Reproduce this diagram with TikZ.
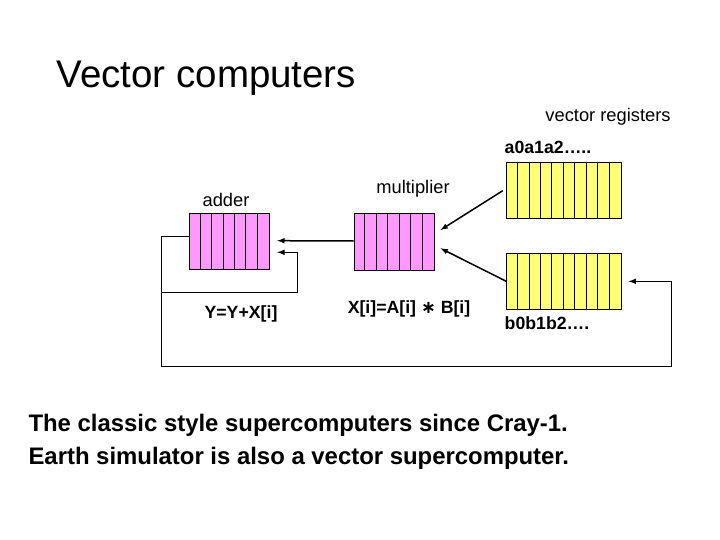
\documentclass[tikz,border=0pt]{standalone}
\usepackage{fontspec}
\setmainfont{Liberation Sans}
\newfontfamily\symfnt{DejaVu Sans}
\usetikzlibrary{arrows, positioning}
\definecolor{regpink}{RGB}{255,153,255}
\definecolor{regyellow}{RGB}{255,255,120}
\tikzstyle{pinkreg} = [rectangle, minimum width=80pt, minimum height=56.5pt, inner sep=0pt, draw=black, line width=1pt, fill=regpink]
\tikzstyle{yellowreg} = [rectangle, minimum width=114.3pt, minimum height=56.5pt, inner sep=0pt, draw=black, line width=1pt, fill=regyellow]
\tikzstyle{txt} = [font=\fontsize{18.3}{21}\selectfont]
\tikzstyle{boldtxt} = [font=\fontsize{17.7}{21}\selectfont\bfseries]
\tikzstyle{wire} = [line width=1pt]
\tikzstyle{arrow} = [line width=1.5pt,->,>=latex]

\begin{document}
\begin{tikzpicture}[x=1pt, y=-1pt]
	\useasboundingbox[fill=white] (0,0) rectangle (720,540);

	\node (title) [anchor=west, font=\fontsize{38.5}{42}\selectfont] at (53,78) {Vector computers};

	\node (adder) [pinkreg] at (229.3,241.7) {};
	\node (mult) [pinkreg] at (394,242) {};
	\node (reg_a) [yellowreg] at (563.9,190.7) {};
	\node (reg_b) [yellowreg] at (563.9,281.3) {};

	% cell dividers
	\foreach \i in {1,...,6} {
		\draw [wire] ([xshift={\i*80/7}]adder.north west) -- ([xshift={\i*80/7}]adder.south west);
		\draw [wire] ([xshift={\i*80/7}]mult.north west) -- ([xshift={\i*80/7}]mult.south west);
	}
	\foreach \i in {1,...,9} {
		\draw [wire] ([xshift={\i*114.3/10}]reg_a.north west) -- ([xshift={\i*114.3/10}]reg_a.south west);
		\draw [wire] ([xshift={\i*114.3/10}]reg_b.north west) -- ([xshift={\i*114.3/10}]reg_b.south west);
	}

	\node (adder_lbl) [txt] at (226,200) {adder};
	\node (mult_lbl) [txt] at (413,189) {multiplier};
	\node (vreg_lbl) [txt] at (608,117) {vector registers};
	\node (a_lbl) [boldtxt] at (548,147) {a0a1a2…..};
	\node (b_lbl) [boldtxt] at (547,323) {b0b1b2….};
	\node (add_eq) [boldtxt] at (241,314) {Y=Y+X[i]};
	\node (mult_eq) [boldtxt] at (409,309) {X[i]=A[i] {\symfnt\bfseries ∗} B[i]};

	\coordinate (loop_top) at (161.7,236.7);
	\coordinate (loop_mid) at (161.7,292.7);
	\coordinate (loop_bot) at (161.7,366.7);
	\coordinate (fb_right) at (297,292.7);
	\coordinate (fb_end) at (297,252.3);
	\coordinate (out_bot) at (671.7,366.7);
	\coordinate (out_end) at (671.7,281.3);

	\draw [wire] ([yshift=5pt]adder.west) -- (loop_top) -- (loop_bot) -- (out_bot) -- (out_end);
	\draw [arrow] (out_end) -- ([xshift=7pt]reg_b.east);
	\draw [wire] (loop_mid) -- (fb_right) -- (fb_end);
	\draw [arrow] (fb_end) -- ([xshift=7.4pt]fb_end -| adder.east);
	\draw [arrow] ([yshift=1pt]mult.west) -- ([xshift=7.4pt, yshift=1pt]adder.east);
	\draw [arrow] ([xshift=-3.5pt]reg_a.west) -- ([xshift=6pt, yshift=12pt]mult.east);
	\draw [arrow] (reg_b.west) -- ([xshift=6pt, yshift=-6.3pt]mult.east);

	\node (note_a) [anchor=west, font=\fontsize{23.9}{28}\selectfont\bfseries] at (25,425) {The classic style supercomputers since Cray-1.};
	\node (note_b) [anchor=west, font=\fontsize{23.9}{28}\selectfont\bfseries] at (25,458) {Earth simulator is also a vector supercomputer.};
\end{tikzpicture}
\end{document}
